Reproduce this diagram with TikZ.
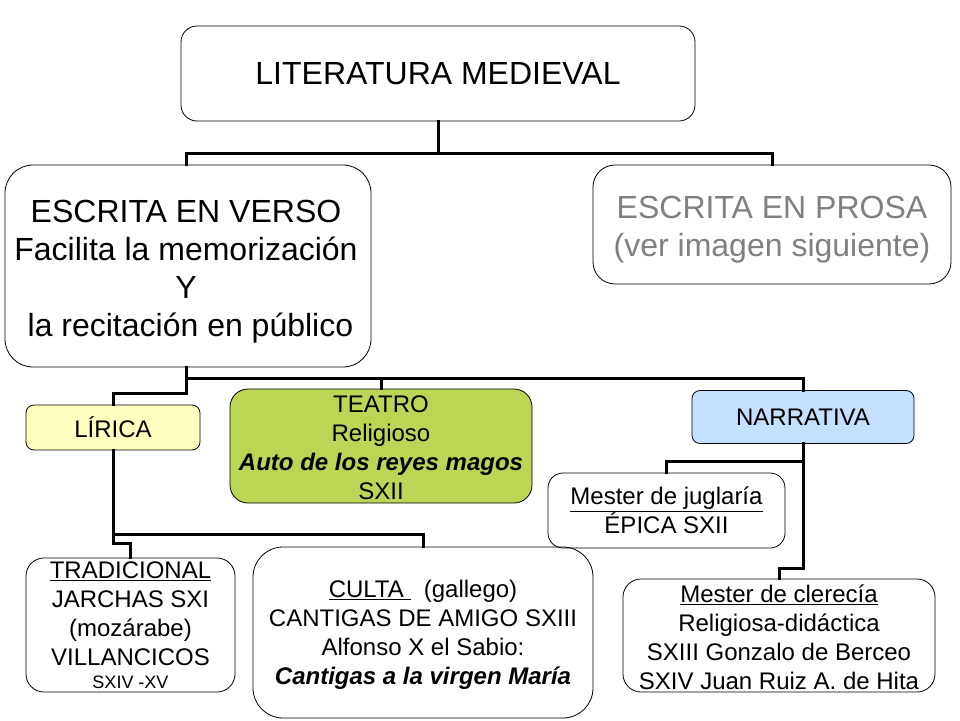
\documentclass[tikz,border=0pt]{standalone}
\usepackage{fontspec}
\setmainfont{Liberation Sans}
\definecolor{teatrogreen}{RGB}{187,214,85}
\definecolor{liricayellow}{RGB}{255,255,192}
\definecolor{narrblue}{RGB}{197,224,255}
\definecolor{prosagray}{RGB}{128,128,128}
\tikzset{
  box/.style={draw=black, line width=0.8pt, align=center, inner sep=0pt, rounded corners=#1},
  box/.default=15pt,
  txt/.style={align=center, inner sep=0pt},
  big/.style={font=\fontsize{32}{38}\selectfont},
  small/.style={font=\fontsize{24}{29}\selectfont},
  conn/.style={line width=3pt, line cap=rect},
}
\begin{document}
\begin{tikzpicture}[x=1pt,y=-1pt]
\useasboundingbox (0,0) rectangle (960,720);
% boxes
\node[box=16pt, big, minimum width=514pt, minimum height=95pt] (top) at (438,73.5) {LITERATURA MEDIEVAL};
\node[box=28pt, minimum width=366pt, minimum height=202pt] (verso) at (188,266) {};
\node[txt, big] (versotext) at (186,271.5)
  {ESCRITA EN VERSO\\Facilita la memorización\\Y\\\ la recitación en público};
\node[box=22pt, minimum width=358pt, minimum height=119pt] (prosa) at (772,224.5) {};
\node[txt, big, text=prosagray] (prosatext) at (772,229.5)
  {ESCRITA EN PROSA\\(ver imagen siguiente)};
\node[box=8pt, small, fill=liricayellow, minimum width=174pt, minimum height=45pt] (lirica) at (113,427.5) {LÍRICA};
\node[box=18pt, fill=teatrogreen, minimum width=302pt, minimum height=114pt] (teatro) at (381,446) {};
\node[txt, small] (teatrotext) at (381,448)
  {TEATRO\\Religioso\\\textbf{\textit{Auto de los reyes magos}}\\SXII};
\node[box=8pt, small, fill=narrblue, minimum width=222pt, minimum height=53pt] (narr) at (803,417) {NARRATIVA};
\node[box=15pt, small, minimum width=237pt, minimum height=75pt] (jug) at (666.5,510.5)
  {\underline{Mester de juglaría}\\ÉPICA SXII};
\node[box=18pt, small, minimum width=209pt, minimum height=134pt] (trad) at (130.5,625)
  {\underline{TRADICIONAL}\\JARCHAS SXI\\(mozárabe)\\VILLANCICOS\\[-6pt]{\fontsize{18}{22}\selectfont SXIV -XV}};
\node[box=30pt, minimum width=340pt, minimum height=171pt] (culta) at (423,632.5) {};
\node[txt, small] (cultatext) at (423,635)
  {\underline{CULTA\ }\ \ (gallego)\\CANTIGAS DE AMIGO SXIII\\Alfonso X el Sabio:\\\textbf{\textit{Cantigas a la virgen María}}};
\node[box=18pt, minimum width=312pt, minimum height=113pt] (cler) at (779,635.5) {};
\node[txt, small] (clertext) at (779,637)
  {\underline{Mester de clerecía}\\Religiosa-didáctica\\SXIII Gonzalo de Berceo\\SXIV Juan Ruiz A. de Hita};
% bus coordinates
\coordinate (bus1) at (0,153);
\coordinate (bus2) at (0,378);
\coordinate (bus3) at (0,534);
% connectors
\draw[conn] (top.south) -- (top.south |- bus1);
\draw[conn] ([xshift=-2pt]verso.north) |- (prosa.north |- bus1) -- (prosa.north);
\draw[conn] ([xshift=-2pt]verso.south) |- (narr.north |- bus2) -- (narr.north);
\draw[conn] (teatro.north) -- (teatro.north |- bus2);
\draw[conn] ([xshift=-2pt]verso.south |- bus2) -- ++(0,15) -| (lirica.north);
\draw[conn] (lirica.south) |- (culta.north |- bus3) -- (culta.north);
\draw[conn] (lirica.south |- bus3) -- ++(0,9) -| (trad.north);
\draw[conn] (narr.south) -- ++(0,125) -| (cler.north);
\draw[conn] ([yshift=-18pt]narr.south) -| (jug.north);
\end{tikzpicture}
\end{document}
